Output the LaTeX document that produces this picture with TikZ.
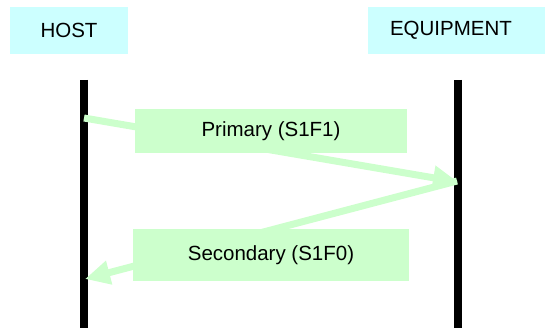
\documentclass[tikz,border=0pt]{standalone}
\usepackage{fontspec}
\setmainfont{Liberation Sans}
\usetikzlibrary{arrows.meta}
\definecolor{boxcyan}{HTML}{CCFFFF}
\definecolor{msggreen}{HTML}{CCFFCC}
\tikzset{
  rolebox/.style={fill=boxcyan, draw=none, minimum height=47pt, inner sep=0pt, font=\fontsize{20.5}{24}\selectfont},
  msgbox/.style={fill=msggreen, draw=none, inner sep=0pt, font=\fontsize{20.5}{24}\selectfont},
  lifeline/.style={line width=8pt, black},
  msgarrow/.style={line width=7pt, msggreen, -{Triangle[length=25pt, width=23pt]}}
}
\begin{document}
\begin{tikzpicture}[x=1pt, y=-1pt]
\useasboundingbox (0,0) rectangle (545,328);
% role headers
\node[rolebox, minimum width=118pt] (host) at (69,30.5) {HOST};
\node[rolebox, minimum width=166pt] (equip) at (451,30.5) {EQUIPMENT};
\fill[boxcyan] (equip.north east) rectangle (545,54);
% lifelines
\coordinate (htop) at (84,80);
\coordinate (hbot) at (84,328);
\coordinate (etop) at (458,80);
\coordinate (ebot) at (458,328);
\draw[lifeline] (htop) -- (hbot);
\draw[lifeline] (etop) -- (ebot);
% message end points
\coordinate (h1) at (84,118);
\coordinate (e1) at (458,182);
\coordinate (e2) at (457,181);
\coordinate (h2) at (85,279);
\draw[msgarrow] (h1) -- (e1);
\draw[msgarrow] (e2) -- (h2);
% message labels
\node[msgbox, minimum width=272pt, minimum height=44pt] (prim) at (271,131) {Primary (S1F1)};
\node[msgbox, minimum width=276pt, minimum height=52pt] (sec) at (271,255) {Secondary (S1F0)};
\end{tikzpicture}
\end{document}
